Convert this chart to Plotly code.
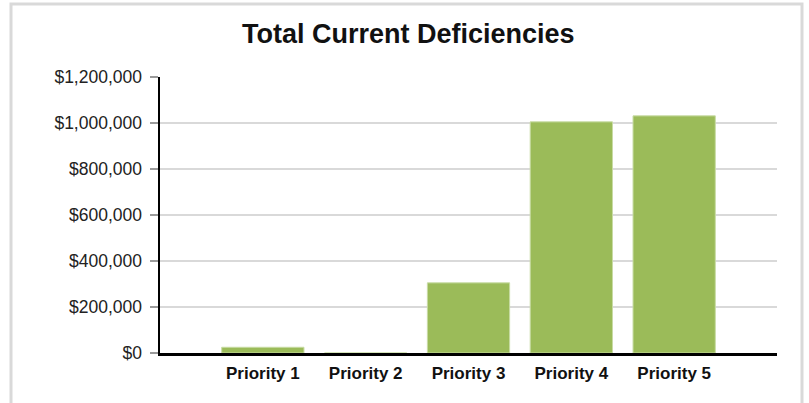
import plotly.graph_objects as go

categories = ["Priority 1", "Priority 2", "Priority 3", "Priority 4", "Priority 5"]
values = [25000, 0, 305000, 1005000, 1031000]
y_ticks = [0, 200000, 400000, 600000, 800000, 1000000, 1200000]
title_text = "Total Current Deficiencies"

W, H = 809, 403
ml, mr, mt, mb = 160, 32, 77, 50
pw, ph = W - ml - mr, H - mt - mb

def px_x(p):
    return (p - ml) / pw

def px_y(p):
    return (H - mb - p) / ph

y_labels = ["&#36;" + format(v, ",") for v in y_ticks]

fig = go.Figure()
fig.add_trace(go.Bar(
    x=categories, y=values, width=0.8,
    marker=dict(color="#9BBB59", line=dict(color="#c8dca4", width=1)),
    hoverinfo="skip",
))

fig.update_layout(
    width=W, height=H,
    margin=dict(l=ml, r=mr, t=mt, b=mb),
    paper_bgcolor="white", plot_bgcolor="white",
    showlegend=False,
    font=dict(family="Arial, Liberation Sans, sans-serif", color="#111"),
    bargap=0.2,
)
fig.update_xaxes(
    type="category", range=[-1, 5],
    showgrid=False, showline=True, linecolor="black", linewidth=2.5,
    ticks="", tickfont=dict(size=17, color="#111", family="Arial, Liberation Sans, sans-serif"),
    tickprefix="<b>", ticksuffix="</b>", ticklabelstandoff=3,
    fixedrange=True,
)
fig.update_yaxes(
    range=[0, 1200000], tickvals=y_ticks, ticktext=y_labels,
    showgrid=True, gridcolor="#d9d9d9", gridwidth=2,
    zeroline=False,
    showline=True, linecolor="black", linewidth=2.5,
    ticks="outside", ticklen=8, tickcolor="#9a9a9a", tickwidth=1.5,
    tickfont=dict(size=17.5, color="#222"), ticklabelstandoff=4,
    fixedrange=True,
)

fig.add_annotation(
    text="<b>" + title_text + "</b>", xref="paper", yref="paper",
    x=px_x(408), y=px_y(33.5), xanchor="center", yanchor="middle",
    showarrow=False, font=dict(size=27, color="#111"),
)

fig.add_shape(
    type="rect", xref="paper", yref="paper",
    x0=px_x(11), x1=px_x(802), y0=px_y(415), y1=px_y(4),
    line=dict(color="#d9d9d9", width=3), layer="below",
)

fig.write_html(
    "out.html",
    config={"displayModeBar": False, "staticPlot": True},
    post_script="document.body.style.margin='0';document.body.style.overflow='hidden';",
)
